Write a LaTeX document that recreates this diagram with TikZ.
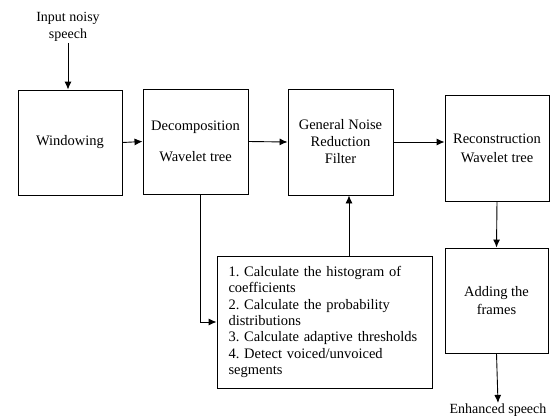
\documentclass[tikz,border=0pt]{standalone}
\usepackage{fontspec}
\setmainfont{Liberation Serif}
\usetikzlibrary{arrows.meta, calc}
\frenchspacing
\hyphenpenalty=10000

\tikzset{
  block/.style={draw, line width=0.9pt, minimum width=105pt, minimum height=105pt,
    align=center, inner sep=2pt, font=\fontsize{14.5}{17}\selectfont},
  label/.style={align=center, inner sep=1pt, font=\fontsize{14}{17}\selectfont},
  flow/.style={line width=0.9pt, -{Latex[length=8pt, width=7pt]}}
}

\begin{document}
\begin{tikzpicture}[x=1pt, y=-1pt]

% Frame of the page
\useasboundingbox (0,0) rectangle (550,418);

% Top row of blocks
\node[block, minimum width=104pt] (win) at (70,142.5) {Windowing};
\node[block] (dec) at (195.5,141.5) {Decomposition\\[14pt]Wavelet tree};
\node[block, minimum height=106pt] (gnr) at (340.5,142) {General Noise\\Reduction\\Filter};
\node[block, minimum width=104pt, minimum height=106pt] (rec) at (497,148)
  {Reconstruction\\[2pt]Wavelet tree};

% Right column
\node[block, minimum width=103pt] (add) at (496.5,300.5) {Adding the\\[1pt]frames};

% Processing steps
\node[draw, line width=0.9pt, minimum width=215pt, minimum height=132pt,
  text width=192pt, inner xsep=11pt, align=left,
  font=\fontsize{14.5}{16.4}\selectfont] (lst) at (324.5,322)
  {1. Calculate the histogram of\\
   coefficients\\
   2. Calculate the probability\\
   distributions\\
   3. Calculate adaptive thresholds\\
   4. Detect voiced/unvoiced\\
   segments};

% Input and output texts
\node[label] (inp) at (68,27) {Input noisy\\speech};
\node[label, anchor=south] (out) at (498,418) {Enhanced speech};

% Signal flow
\draw[flow] (inp.south) -- (inp.south |- win.north);
\draw[flow] (win.east) -- (dec.west);
\draw[flow] (dec.east) -- (gnr.west);
\draw[flow] (gnr.east) -- (gnr.east -| rec.west);
\draw[flow] (rec.south) -- (add.north);
\draw[flow] (add.south) -- (out.north);

% Side branch through the steps box
\draw[flow] ([xshift=4.5pt]dec.south) |- (lst.west);
\draw[flow] ([xshift=8.5pt]gnr.south |- lst.north) -- ([xshift=8.5pt]gnr.south);

\end{tikzpicture}
\end{document}
